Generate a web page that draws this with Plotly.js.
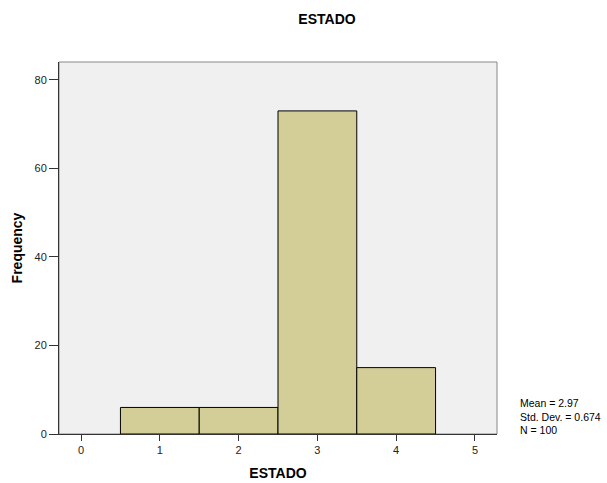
<!DOCTYPE html>
<html>
<head>
<meta charset="utf-8">
<script src="https://cdn.plot.ly/plotly-3.0.1.min.js"></script>
<style>html,body{margin:0;padding:0;background:#fff;}#chart{width:607px;height:483px;}</style>
</head>
<body>
<div id="chart"></div>
<script>
const categories = [1, 2, 3, 4];
const frequencies = [6, 6, 73, 15];
const xTicks = [0, 1, 2, 3, 4, 5];
const yTicks = [0, 20, 40, 60, 80];
const statsLines = ["Mean = 2.97", "Std. Dev. = 0.674", "N = 100"];

const trace = {
  type: 'bar',
  x: categories,
  y: frequencies,
  width: 1,
  marker: {color: '#d3ce97', line: {color: '#000000', width: 1}},
  hoverinfo: 'x+y'
};

const layout = {
  width: 607, height: 483,
  margin: {l: 59, r: 110, t: 62, b: 49},
  paper_bgcolor: '#ffffff',
  plot_bgcolor: '#f0f0f0',
  font: {family: 'Arial, Liberation Sans, sans-serif', color: '#000'},
  title: {text: '<b>ESTADO</b>', x: 327/607, xanchor: 'center', y: 1 - 19/483, yanchor: 'middle', font: {size: 14, color: '#000'}},
  showlegend: false,
  bargap: 0,
  xaxis: {
    range: [-0.28, 5.28], tickvals: xTicks, ticktext: xTicks.map(String),
    ticks: 'outside', ticklen: 6, tickcolor: '#333', tickwidth: 1,
    showgrid: false, zeroline: false, showline: true, linecolor: '#333', linewidth: 1,
    tickfont: {size: 11, color: '#222'},
    title: {text: '<b>ESTADO</b>', font: {size: 14, color: '#000'}, standoff: 12}
  },
  yaxis: {
    range: [0, 84.05], tickvals: yTicks, ticktext: yTicks.map(String),
    ticks: 'outside', ticklen: 9, tickcolor: '#333', tickwidth: 1,
    showgrid: false, zeroline: false, showline: true, linecolor: '#333', linewidth: 1,
    tickfont: {size: 11, color: '#222'},
    title: {text: '<b>Frequency</b>', font: {size: 14, color: '#000'}, standoff: 8}
  },
  shapes: [{type: 'rect', xref: 'paper', yref: 'paper', x0: 0, x1: 1, y0: 0, y1: 1, line: {color: '#888', width: 1}, layer: 'below'}],
  annotations: [{
    xref: 'paper', yref: 'paper', x: 1, y: 0, xshift: 21, yshift: -4,
    xanchor: 'left', yanchor: 'bottom', align: 'left', showarrow: false,
    text: statsLines.join('<br>'), font: {size: 10.5, color: '#000'}
  }]
};

Plotly.newPlot('chart', [trace], layout, {displayModeBar: false, staticPlot: true});
</script>
</body>
</html>
